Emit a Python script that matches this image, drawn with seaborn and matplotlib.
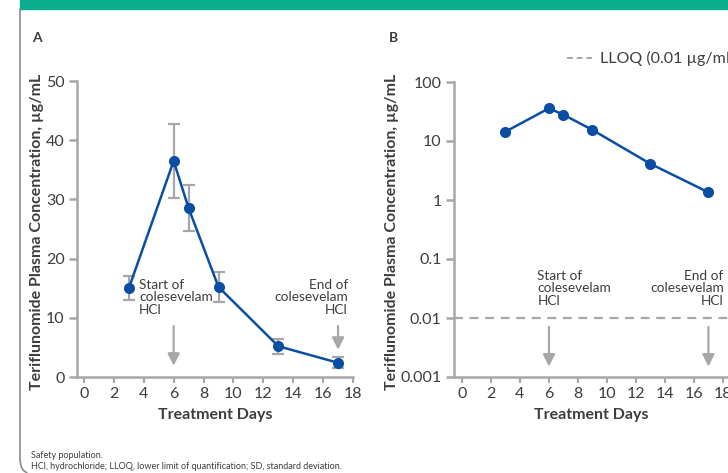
import pandas as pd
import matplotlib.pyplot as plt
import seaborn as sns
from matplotlib.lines import Line2D
from matplotlib.patches import Rectangle

# ── Data ─────────────────────────────────────────────────────
days = [3, 6, 7, 9, 13, 17]
mean_conc = [15.0, 36.5, 28.5, 15.2, 5.2, 2.4]          # panel A, µg/mL
sd_conc = [2.0, 6.3, 3.9, 2.5, 1.3, 0.9]
log_conc = [14.4, 35.8, 27.9, 15.4, 4.1, 1.35]           # panel B, µg/mL
lloq = 0.01
a_ticks_y = [0, 10, 20, 30, 40, 50]
b_ticks_y = [0.001, 0.01, 0.1, 1, 10, 100]
b_tick_labels = ["0.001", "0.01", "0.1", "1", "10", "100"]
x_ticks = list(range(0, 19, 2))

dfA = pd.DataFrame({"day": days, "conc": mean_conc, "sd": sd_conc})
dfB = pd.DataFrame({"day": days, "conc": log_conc})

# ── Style ────────────────────────────────────────────────────
sns.set_theme(style="white")
plt.rcParams["font.family"] = ["Lato", "DejaVu Sans"]

BLUE = "#0a4ea3"
GREY = "#a7a7a9"
TEXT = "#3d3d3f"
GREEN = "#0aae8e"

W, H = 728, 473
fig = plt.figure(figsize=(W / 100, H / 100), dpi=100)
fig.patch.set_facecolor("white")


def px(x, y):
    return x / W, 1 - y / H


# header bar + left border
fig.patches.append(Rectangle(px(20, 9), 1, 9 / H, transform=fig.transFigure,
                             color=GREEN, zorder=0))
fig.lines.append(Line2D([20 / W, 20 / W, 21 / W, 23 / W, 27 / W],
                        [1 - 9 / H, 1 - 460 / H, 1 - 466 / H, 1 - 470 / H, 1 - 473 / H],
                        transform=fig.transFigure, color="#8a8a8c", lw=1.2))

axA = fig.add_axes([77 / W, 96 / H, 276 / W, 296 / H])
axB = fig.add_axes([454 / W, 96 / H, 274 / W, 295 / H])


def style_axis(ax):
    for s in ["top", "right"]:
        ax.spines[s].set_visible(False)
    for s in ["left", "bottom"]:
        ax.spines[s].set_color(GREY)
        ax.spines[s].set_linewidth(1.8)
    ax.tick_params(axis="y", length=6, width=1.8, color=GREY, labelsize=11.5,
                   labelcolor=TEXT, pad=3, left=True)
    ax.tick_params(axis="y", which="minor", left=False)
    ax.tick_params(axis="x", length=4, width=1.5, color=GREY, labelsize=11.5,
                   labelcolor=TEXT, pad=3, bottom=True)
    ax.set_facecolor("white")
    ax.set_xticks(x_ticks)
    ax.set_xlabel("Treatment Days", fontsize=11.5, fontweight="bold", color=TEXT, labelpad=5)
    ax.set_ylabel("")


# ══════════════════════════════════════════════════════════════
# PANEL A — linear scale with SD error bars
# ══════════════════════════════════════════════════════════════
axA.errorbar(dfA["day"], dfA["conc"], yerr=dfA["sd"], fmt="none", ecolor=GREY,
             elinewidth=1.6, capsize=4, capthick=1.6, zorder=1)
sns.lineplot(data=dfA, x="day", y="conc", ax=axA, color=BLUE, lw=1.8, marker="o",
             markersize=8, markeredgewidth=0, zorder=3)
axA.set_xlim(-0.47, 18)
axA.set_ylim(0, 50)
axA.set_yticks(a_ticks_y)
style_axis(axA)

arrow = dict(arrowstyle="-|>,head_length=0.6,head_width=0.3", color=GREY, lw=1.6,
             shrinkA=0, shrinkB=0)
axA.annotate("", xy=(6, 1.9), xytext=(6, 8.6), arrowprops=arrow)
axA.annotate("", xy=(17, 4.6), xytext=(17, 8.6), arrowprops=arrow)
axA.text(3.68, 16.6, "Start of\ncolesevelam\nHCl", ha="left", va="top", fontsize=9.8,
         color=TEXT, linespacing=1.05)
axA.text(17.65, 16.6, "End of\ncolesevelam\nHCl", ha="right", va="top", fontsize=9.8,
         color=TEXT, linespacing=1.05)

# ══════════════════════════════════════════════════════════════
# PANEL B — log scale with LLOQ
# ══════════════════════════════════════════════════════════════
axB.axhline(lloq, color=GREY, lw=1.6, ls=(0, (4, 3)), zorder=1)
sns.lineplot(data=dfB, x="day", y="conc", ax=axB, color=BLUE, lw=1.8, marker="o",
             markersize=8, markeredgewidth=0, zorder=3)
axB.set_yscale("log")
axB.set_xlim(-0.55, 18.35)
axB.set_ylim(0.001, 100)
axB.set_yticks(b_ticks_y)
axB.set_yticklabels(b_tick_labels)
style_axis(axB)

axB.annotate("", xy=(6, 0.0015), xytext=(6, 0.0071), arrowprops=arrow)
axB.annotate("", xy=(17, 0.0015), xytext=(17, 0.0071), arrowprops=arrow)
axB.text(5.2, 0.066, "Start of\ncolesevelam\nHCl", ha="left", va="top", fontsize=9.8,
         color=TEXT, linespacing=1.05)
axB.text(18.05, 0.066, "End of\ncolesevelam\nHCl", ha="right", va="top", fontsize=9.8,
         color=TEXT, linespacing=1.05)

# LLOQ legend key
fig.lines.append(Line2D([567 / W, 592 / W], [1 - 58 / H] * 2, transform=fig.transFigure,
                        color=GREY, lw=1.4, ls=(0, (3, 2))))
fig.text(600 / W, 1 - 58 / H, "LLOQ (0.01 µg/mL)", ha="left", va="center",
         fontsize=11.5, color=TEXT)

# ── Panel letters, y labels, footnotes ──────────────────────
ylab = "Teriflunomide Plasma Concentration, µg/mL"
for xl, letter, yl in [(37, "A", 37), (393, "B", 392)]:
    fig.text(*px(xl, 38), letter, ha="center", va="center", fontsize=10,
             fontweight="bold", color=TEXT)
    fig.text(*px(yl, 232), ylab, ha="center", va="center", rotation=90,
             fontsize=11.5, fontweight="bold", color=TEXT)

fig.text(*px(31, 455), "Safety population.", ha="left", va="center", fontsize=6.5, color=TEXT)
fig.text(*px(31, 466), "HCl, hydrochloride; LLOQ, lower limit of quantification; SD, standard deviation.",
         ha="left", va="center", fontsize=6.5, color=TEXT)

plt.savefig("out.png", dpi=100)
